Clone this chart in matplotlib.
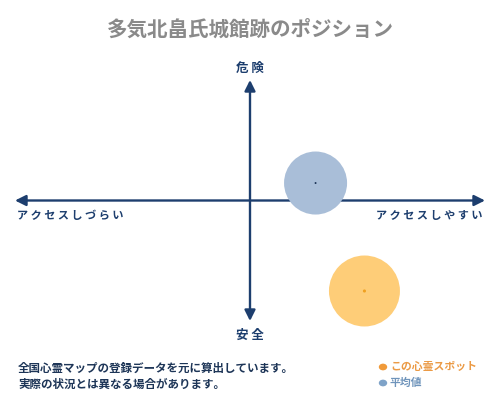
import matplotlib
matplotlib.use("Agg")
import matplotlib.pyplot as plt

plt.rcParams['font.family'] = ['Noto Sans CJK JP', 'DejaVu Sans']

# ---- data ----
title = "多気北畠氏城館跡のポジション"
axis_top = "危 険"
axis_bottom = "安 全"
axis_left = "アクセスしづらい"
axis_right = "アクセスしやすい"
series_names = ["この心霊スポット", "平均値"]
access_x = [0.487, 0.279]     # accessibility (-1 hard .. 1 easy)
danger_y = [-0.751, 0.145]    # danger (-1 safe .. 1 dangerous)
notes = ["全国心霊マップの登録データを元に算出しています。",
         "実際の状況とは異なる場合があります。"]

# ---- style ----
W, H = 500, 400
NAVY = "#1d3e6e"
fill_colors = ["#fecd78", "#a9bed8"]
dot_colors = ["#f0a020", "#1d3557"]
legend_text_colors = ["#eb9a45", "#6f94bb"]
legend_dot_colors = ["#f09a3a", "#7fa3c8"]
marker_sizes = [2612, 2060]

fig = plt.figure(figsize=(W / 100, H / 100), dpi=100)
fig.patch.set_facecolor("white")

def fx(px):
    return px / W

def fy(py):
    return 1 - py / H

ax = fig.add_axes([fx(15), fy(321), fx(485) - fx(15), fy(80) - fy(321)])
ax.set_xlim(-1, 1)
ax.set_ylim(-1, 1)
ax.axis("off")

arrow_kw = dict(arrowstyle="-|>,head_length=0.8,head_width=0.4", color=NAVY,
                lw=1.7, mutation_scale=8, shrinkA=0, shrinkB=0)
for tgt in [(1, 0), (-1, 0), (0, 1), (0, -1)]:
    ax.annotate("", xy=tgt, xytext=(0, 0), xycoords="data",
                arrowprops=arrow_kw, annotation_clip=False)

for i in range(len(series_names)):
    ax.scatter([access_x[i]], [danger_y[i]], s=marker_sizes[i], c=fill_colors[i],
               edgecolors="none", zorder=3, clip_on=False)
    ax.scatter([access_x[i]], [danger_y[i]], s=5 if i == 0 else 2,
               c=dot_colors[i], edgecolors="none", zorder=4, clip_on=False)

fig.text(fx(250), fy(29), title, ha="center", va="center", fontsize=14.8,
         color="#8a8a8a", fontweight="semibold")
fig.text(fx(250), fy(68), axis_top, ha="center", va="center", fontsize=9,
         color=NAVY, fontweight="bold")
fig.text(fx(250), fy(335), axis_bottom, ha="center", va="center", fontsize=9,
         color=NAVY, fontweight="bold")
fig.text(fx(17), fy(216), " ".join(axis_left), ha="left", va="center",
         fontsize=8, color=NAVY, fontweight="bold")
fig.text(fx(483), fy(216), " ".join(axis_right), ha="right", va="center",
         fontsize=8, color=NAVY, fontweight="bold")

for j, line in enumerate(notes):
    fig.text(fx(18), fy(368 + 16 * j), line, ha="left", va="center",
             fontsize=8.3, color="#1d3557", fontweight="bold")

for i, name in enumerate(series_names):
    yy = 367 + 16 * i
    fig.text(fx(390), fy(yy), name, ha="left", va="center", fontsize=7.8,
             color=legend_text_colors[i], fontweight="bold")
    fig.add_artist(matplotlib.patches.Circle((fx(383), fy(yy)), 4.2 / W,
                   transform=fig.transFigure, facecolor=legend_dot_colors[i],
                   edgecolor="none"))

fig.savefig("out.png", dpi=100, facecolor="white")
